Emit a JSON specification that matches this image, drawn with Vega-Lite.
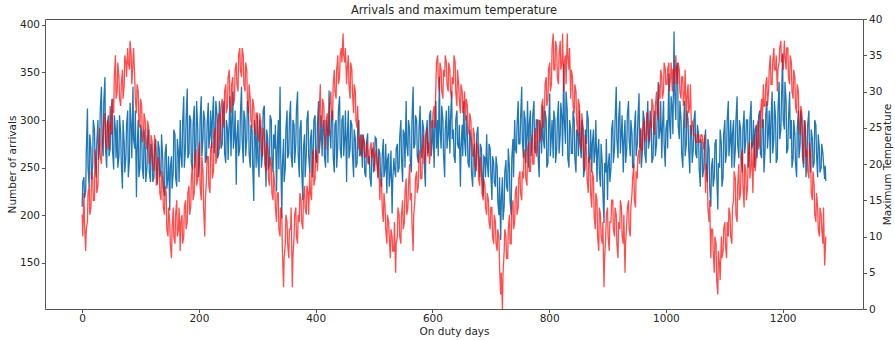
{
"$schema": "https://vega.github.io/schema/vega-lite/v6.json",
"width": 818, "height": 290,
"autosize": {"type": "none"},
"padding": {"left": 45, "top": 19, "right": 32, "bottom": 31},
"title": {"text": "Arrivals and maximum temperature", "fontSize": 11.5, "font": "DejaVu Sans", "fontWeight": "normal", "color": "#262626", "baseline": "bottom", "offset": 3, "dy": 16, "frame": "group", "anchor": "middle"},
"config": {
  "view": {"stroke": "#555555", "strokeWidth": 1},
  "font": "DejaVu Sans",
  "axis": {"grid": false, "domain": false, "tickColor": "#555555", "tickSize": 3.5, "labelFont": "DejaVu Sans", "labelFontSize": 10.5, "labelColor": "#262626", "titleFont": "DejaVu Sans", "titleFontSize": 10.5, "titleFontWeight": "normal", "titleColor": "#262626"}
},
"data": {"values": [
{"day":0,"arr":209,"temp":13},{"day":1,"arr":235,"temp":10},{"day":3,"arr":240,"temp":16},{"day":4,"arr":218,"temp":12},{"day":6,"arr":225,"temp":8},{"day":7,"arr":265,"temp":11},{"day":9,"arr":312,"temp":12},{"day":10,"arr":250,"temp":16},{"day":12,"arr":230,"temp":17},{"day":13,"arr":285,"temp":13},{"day":15,"arr":270,"temp":14},{"day":16,"arr":238,"temp":19},{"day":18,"arr":252,"temp":18},{"day":19,"arr":300,"temp":15},{"day":21,"arr":290,"temp":15},{"day":22,"arr":262,"temp":22},{"day":24,"arr":240,"temp":20},{"day":25,"arr":275,"temp":16},{"day":27,"arr":300,"temp":17},{"day":28,"arr":258,"temp":21},
{"day":30,"arr":275,"temp":25},{"day":31,"arr":310,"temp":21},{"day":33,"arr":335,"temp":20},{"day":34,"arr":280,"temp":23},{"day":36,"arr":262,"temp":24},{"day":37,"arr":318,"temp":26},{"day":39,"arr":345,"temp":27},{"day":40,"arr":270,"temp":23},{"day":42,"arr":250,"temp":22},{"day":43,"arr":295,"temp":26},{"day":45,"arr":305,"temp":25},{"day":46,"arr":262,"temp":22},{"day":48,"arr":270,"temp":28},{"day":49,"arr":300,"temp":25},{"day":51,"arr":322,"temp":24},{"day":52,"arr":268,"temp":29},{"day":54,"arr":248,"temp":27},{"day":55,"arr":305,"temp":32},{"day":57,"arr":290,"temp":35},{"day":58,"arr":260,"temp":29},
{"day":60,"arr":300,"temp":30},{"day":61,"arr":250,"temp":34},{"day":63,"arr":262,"temp":32},{"day":64,"arr":305,"temp":29},{"day":66,"arr":285,"temp":28},{"day":67,"arr":255,"temp":31},{"day":69,"arr":228,"temp":33},{"day":70,"arr":300,"temp":29},{"day":72,"arr":275,"temp":31},{"day":73,"arr":245,"temp":35},{"day":75,"arr":262,"temp":34},{"day":76,"arr":295,"temp":32},{"day":78,"arr":310,"temp":36},{"day":79,"arr":240,"temp":34},{"day":81,"arr":258,"temp":33},{"day":82,"arr":318,"temp":37},{"day":84,"arr":290,"temp":35},{"day":85,"arr":260,"temp":31},{"day":87,"arr":335,"temp":34},{"day":88,"arr":280,"temp":36},
{"day":90,"arr":270,"temp":32},{"day":91,"arr":310,"temp":29},{"day":93,"arr":219,"temp":27},{"day":94,"arr":265,"temp":31},{"day":96,"arr":300,"temp":30},{"day":97,"arr":240,"temp":26},{"day":99,"arr":250,"temp":25},{"day":100,"arr":295,"temp":29},{"day":102,"arr":285,"temp":28},{"day":103,"arr":250,"temp":23},{"day":105,"arr":238,"temp":24},{"day":106,"arr":290,"temp":27},{"day":108,"arr":270,"temp":26},{"day":109,"arr":235,"temp":23},{"day":111,"arr":250,"temp":22},{"day":112,"arr":280,"temp":26},{"day":114,"arr":290,"temp":25},{"day":115,"arr":245,"temp":20},{"day":117,"arr":235,"temp":21},{"day":118,"arr":275,"temp":24},
{"day":120,"arr":262,"temp":23},{"day":121,"arr":235,"temp":20},{"day":123,"arr":240,"temp":19},{"day":124,"arr":270,"temp":24},{"day":126,"arr":280,"temp":22},{"day":127,"arr":250,"temp":17},{"day":129,"arr":232,"temp":18},{"day":130,"arr":278,"temp":21},{"day":132,"arr":270,"temp":20},{"day":133,"arr":240,"temp":16},{"day":135,"arr":246,"temp":15},{"day":136,"arr":285,"temp":19},{"day":138,"arr":258,"temp":18},{"day":139,"arr":230,"temp":14},{"day":141,"arr":220,"temp":13},{"day":142,"arr":265,"temp":17},{"day":144,"arr":275,"temp":16},{"day":145,"arr":228,"temp":11},{"day":147,"arr":240,"temp":10},{"day":148,"arr":262,"temp":14},
{"day":150,"arr":205,"temp":12},{"day":151,"arr":250,"temp":9},{"day":153,"arr":262,"temp":7},{"day":154,"arr":228,"temp":11},{"day":156,"arr":245,"temp":14},{"day":157,"arr":290,"temp":10},{"day":159,"arr":285,"temp":9},{"day":160,"arr":240,"temp":13},{"day":162,"arr":230,"temp":15},{"day":163,"arr":280,"temp":10},{"day":165,"arr":265,"temp":11},{"day":166,"arr":235,"temp":14},{"day":168,"arr":300,"temp":8},{"day":169,"arr":265,"temp":12},{"day":171,"arr":250,"temp":13},{"day":172,"arr":295,"temp":9},{"day":174,"arr":325,"temp":10},{"day":175,"arr":250,"temp":14},{"day":177,"arr":270,"temp":15},{"day":178,"arr":300,"temp":11},
{"day":180,"arr":333,"temp":12},{"day":181,"arr":260,"temp":16},{"day":183,"arr":265,"temp":17},{"day":184,"arr":305,"temp":13},{"day":186,"arr":300,"temp":14},{"day":187,"arr":255,"temp":18},{"day":189,"arr":248,"temp":20},{"day":190,"arr":295,"temp":15},{"day":192,"arr":315,"temp":16},{"day":193,"arr":250,"temp":21},{"day":195,"arr":275,"temp":22},{"day":196,"arr":320,"temp":17},{"day":198,"arr":290,"temp":18},{"day":199,"arr":240,"temp":21},{"day":201,"arr":255,"temp":23},{"day":202,"arr":300,"temp":17},{"day":204,"arr":325,"temp":15},{"day":205,"arr":262,"temp":21},{"day":207,"arr":280,"temp":19},{"day":208,"arr":310,"temp":14},
{"day":210,"arr":300,"temp":10},{"day":211,"arr":255,"temp":15},{"day":213,"arr":260,"temp":18},{"day":214,"arr":295,"temp":21},{"day":216,"arr":318,"temp":21},{"day":217,"arr":270,"temp":17},{"day":219,"arr":285,"temp":16},{"day":220,"arr":310,"temp":22},{"day":222,"arr":270,"temp":23},{"day":223,"arr":300,"temp":18},{"day":225,"arr":325,"temp":19},{"day":226,"arr":265,"temp":24},{"day":228,"arr":290,"temp":25},{"day":229,"arr":320,"temp":20},{"day":231,"arr":305,"temp":21},{"day":232,"arr":260,"temp":26},{"day":234,"arr":265,"temp":27},{"day":235,"arr":320,"temp":22},{"day":237,"arr":300,"temp":24},{"day":238,"arr":270,"temp":28},
{"day":240,"arr":275,"temp":29},{"day":241,"arr":310,"temp":26},{"day":243,"arr":320,"temp":25},{"day":244,"arr":265,"temp":30},{"day":246,"arr":255,"temp":31},{"day":247,"arr":300,"temp":27},{"day":249,"arr":290,"temp":28},{"day":250,"arr":258,"temp":32},{"day":252,"arr":300,"temp":33},{"day":253,"arr":325,"temp":29},{"day":255,"arr":262,"temp":27},{"day":256,"arr":295,"temp":31},{"day":258,"arr":330,"temp":32},{"day":259,"arr":270,"temp":28},{"day":261,"arr":285,"temp":29},{"day":262,"arr":310,"temp":33},{"day":264,"arr":232,"temp":34},{"day":265,"arr":280,"temp":31},{"day":267,"arr":300,"temp":30},{"day":268,"arr":262,"temp":35},
{"day":270,"arr":270,"temp":36},{"day":271,"arr":305,"temp":33},{"day":273,"arr":335,"temp":32},{"day":274,"arr":280,"temp":36},{"day":276,"arr":255,"temp":35},{"day":277,"arr":310,"temp":31},{"day":279,"arr":300,"temp":30},{"day":280,"arr":262,"temp":34},{"day":282,"arr":280,"temp":33},{"day":283,"arr":320,"temp":29},{"day":285,"arr":310,"temp":27},{"day":286,"arr":265,"temp":31},{"day":288,"arr":250,"temp":29},{"day":289,"arr":295,"temp":26},{"day":291,"arr":290,"temp":25},{"day":292,"arr":255,"temp":29},{"day":294,"arr":215,"temp":28},{"day":295,"arr":300,"temp":25},{"day":297,"arr":280,"temp":24},{"day":298,"arr":250,"temp":27},
{"day":300,"arr":305,"temp":27},{"day":301,"arr":260,"temp":24},{"day":303,"arr":240,"temp":23},{"day":304,"arr":300,"temp":27},{"day":306,"arr":290,"temp":26},{"day":307,"arr":250,"temp":22},{"day":309,"arr":265,"temp":21},{"day":310,"arr":310,"temp":25},{"day":312,"arr":315,"temp":24},{"day":313,"arr":270,"temp":20},{"day":315,"arr":230,"temp":19},{"day":316,"arr":290,"temp":23},{"day":318,"arr":280,"temp":22},{"day":319,"arr":248,"temp":18},{"day":321,"arr":255,"temp":17},{"day":322,"arr":305,"temp":21},{"day":324,"arr":300,"temp":20},{"day":325,"arr":260,"temp":16},{"day":327,"arr":245,"temp":15},{"day":328,"arr":285,"temp":19},
{"day":330,"arr":270,"temp":17},{"day":331,"arr":295,"temp":14},{"day":333,"arr":225,"temp":12},{"day":334,"arr":265,"temp":16},{"day":336,"arr":300,"temp":16},{"day":337,"arr":248,"temp":11},{"day":339,"arr":335,"temp":10},{"day":340,"arr":270,"temp":14},{"day":342,"arr":197,"temp":13},{"day":343,"arr":250,"temp":8},{"day":345,"arr":280,"temp":3},{"day":346,"arr":235,"temp":7},{"day":348,"arr":250,"temp":9},{"day":349,"arr":290,"temp":13},{"day":351,"arr":310,"temp":12},{"day":352,"arr":260,"temp":9},{"day":354,"arr":265,"temp":7},{"day":355,"arr":300,"temp":11},{"day":357,"arr":320,"temp":11},{"day":358,"arr":262,"temp":14},
{"day":360,"arr":250,"temp":3},{"day":361,"arr":300,"temp":7},{"day":363,"arr":295,"temp":10},{"day":364,"arr":255,"temp":13},{"day":366,"arr":275,"temp":14},{"day":367,"arr":310,"temp":10},{"day":369,"arr":330,"temp":9},{"day":370,"arr":265,"temp":13},{"day":372,"arr":240,"temp":12},{"day":373,"arr":290,"temp":16},{"day":375,"arr":300,"temp":15},{"day":376,"arr":250,"temp":12},{"day":378,"arr":216,"temp":11},{"day":379,"arr":270,"temp":15},{"day":381,"arr":285,"temp":17},{"day":382,"arr":240,"temp":14},{"day":384,"arr":265,"temp":13},{"day":385,"arr":300,"temp":17},{"day":387,"arr":310,"temp":16},{"day":388,"arr":262,"temp":13},
{"day":390,"arr":245,"temp":19},{"day":391,"arr":280,"temp":16},{"day":393,"arr":290,"temp":15},{"day":394,"arr":240,"temp":20},{"day":396,"arr":270,"temp":22},{"day":397,"arr":300,"temp":17},{"day":399,"arr":305,"temp":18},{"day":400,"arr":260,"temp":22},{"day":402,"arr":255,"temp":21},{"day":403,"arr":295,"temp":19},{"day":405,"arr":320,"temp":23},{"day":406,"arr":265,"temp":27},{"day":408,"arr":280,"temp":31},{"day":409,"arr":305,"temp":26},{"day":411,"arr":262,"temp":25},{"day":412,"arr":290,"temp":29},{"day":414,"arr":300,"temp":28},{"day":415,"arr":262,"temp":24},{"day":417,"arr":250,"temp":22},{"day":418,"arr":300,"temp":26},
{"day":420,"arr":290,"temp":27},{"day":421,"arr":255,"temp":24},{"day":423,"arr":331,"temp":24},{"day":424,"arr":290,"temp":28},{"day":426,"arr":270,"temp":30},{"day":427,"arr":305,"temp":27},{"day":429,"arr":310,"temp":26},{"day":430,"arr":262,"temp":31},{"day":432,"arr":245,"temp":33},{"day":433,"arr":295,"temp":30},{"day":435,"arr":300,"temp":29},{"day":436,"arr":250,"temp":33},{"day":438,"arr":275,"temp":35},{"day":439,"arr":310,"temp":31},{"day":441,"arr":325,"temp":32},{"day":442,"arr":270,"temp":35},{"day":444,"arr":260,"temp":36},{"day":445,"arr":300,"temp":34},{"day":447,"arr":305,"temp":38},{"day":448,"arr":262,"temp":35},
{"day":450,"arr":285,"temp":34},{"day":451,"arr":310,"temp":36},{"day":453,"arr":235,"temp":31},{"day":454,"arr":280,"temp":33},{"day":456,"arr":310,"temp":35},{"day":457,"arr":260,"temp":31},{"day":459,"arr":270,"temp":29},{"day":460,"arr":300,"temp":34},{"day":462,"arr":295,"temp":33},{"day":463,"arr":265,"temp":30},{"day":465,"arr":240,"temp":27},{"day":466,"arr":290,"temp":31},{"day":468,"arr":280,"temp":30},{"day":469,"arr":250,"temp":26},{"day":471,"arr":255,"temp":25},{"day":472,"arr":290,"temp":28},{"day":474,"arr":300,"temp":22},{"day":475,"arr":262,"temp":23},{"day":477,"arr":265,"temp":24},{"day":478,"arr":285,"temp":21},
{"day":480,"arr":250,"temp":22},{"day":481,"arr":285,"temp":24},{"day":483,"arr":278,"temp":23},{"day":484,"arr":245,"temp":21},{"day":486,"arr":240,"temp":21},{"day":487,"arr":275,"temp":23},{"day":489,"arr":286,"temp":22},{"day":490,"arr":255,"temp":20},{"day":492,"arr":262,"temp":20},{"day":493,"arr":240,"temp":22},{"day":495,"arr":230,"temp":23},{"day":496,"arr":268,"temp":21},{"day":498,"arr":270,"temp":21},{"day":499,"arr":245,"temp":23},{"day":501,"arr":255,"temp":19},{"day":502,"arr":282,"temp":21},{"day":504,"arr":280,"temp":22},{"day":505,"arr":258,"temp":20},{"day":507,"arr":240,"temp":18},{"day":508,"arr":270,"temp":21},
{"day":510,"arr":265,"temp":15},{"day":511,"arr":245,"temp":18},{"day":513,"arr":230,"temp":17},{"day":514,"arr":262,"temp":14},{"day":516,"arr":280,"temp":12},{"day":517,"arr":240,"temp":16},{"day":519,"arr":250,"temp":14},{"day":520,"arr":275,"temp":11},{"day":522,"arr":223,"temp":9},{"day":523,"arr":258,"temp":13},{"day":525,"arr":265,"temp":12},{"day":526,"arr":230,"temp":10},{"day":528,"arr":245,"temp":7},{"day":529,"arr":268,"temp":11},{"day":531,"arr":202,"temp":10},{"day":532,"arr":235,"temp":8},{"day":534,"arr":260,"temp":8},{"day":535,"arr":250,"temp":12},{"day":537,"arr":240,"temp":5},{"day":538,"arr":270,"temp":9},
{"day":540,"arr":275,"temp":10},{"day":541,"arr":245,"temp":14},{"day":543,"arr":250,"temp":13},{"day":544,"arr":282,"temp":10},{"day":546,"arr":300,"temp":9},{"day":547,"arr":260,"temp":13},{"day":549,"arr":235,"temp":15},{"day":550,"arr":290,"temp":11},{"day":552,"arr":285,"temp":12},{"day":553,"arr":250,"temp":16},{"day":555,"arr":320,"temp":18},{"day":556,"arr":275,"temp":13},{"day":558,"arr":262,"temp":14},{"day":559,"arr":300,"temp":17},{"day":561,"arr":290,"temp":20},{"day":562,"arr":258,"temp":15},{"day":564,"arr":245,"temp":16},{"day":565,"arr":300,"temp":12},{"day":567,"arr":335,"temp":8},{"day":568,"arr":270,"temp":13},
{"day":570,"arr":275,"temp":15},{"day":571,"arr":305,"temp":18},{"day":573,"arr":300,"temp":19},{"day":574,"arr":262,"temp":16},{"day":576,"arr":255,"temp":17},{"day":577,"arr":290,"temp":21},{"day":579,"arr":315,"temp":22},{"day":580,"arr":270,"temp":18},{"day":582,"arr":260,"temp":18},{"day":583,"arr":300,"temp":22},{"day":585,"arr":290,"temp":24},{"day":586,"arr":255,"temp":20},{"day":588,"arr":230,"temp":21},{"day":589,"arr":285,"temp":24},{"day":591,"arr":300,"temp":25},{"day":592,"arr":265,"temp":21},{"day":594,"arr":270,"temp":23},{"day":595,"arr":305,"temp":20},{"day":597,"arr":310,"temp":22},{"day":598,"arr":262,"temp":26},
{"day":600,"arr":280,"temp":25},{"day":601,"arr":300,"temp":27},{"day":603,"arr":250,"temp":28},{"day":604,"arr":290,"temp":25},{"day":606,"arr":320,"temp":31},{"day":607,"arr":270,"temp":34},{"day":609,"arr":300,"temp":35},{"day":610,"arr":262,"temp":32},{"day":612,"arr":345,"temp":30},{"day":613,"arr":290,"temp":34},{"day":615,"arr":270,"temp":33},{"day":616,"arr":315,"temp":30},{"day":618,"arr":300,"temp":29},{"day":619,"arr":265,"temp":33},{"day":621,"arr":240,"temp":32},{"day":622,"arr":290,"temp":35},{"day":624,"arr":310,"temp":34},{"day":625,"arr":270,"temp":31},{"day":627,"arr":285,"temp":30},{"day":628,"arr":315,"temp":34},
{"day":630,"arr":265,"temp":33},{"day":631,"arr":300,"temp":30},{"day":633,"arr":330,"temp":29},{"day":634,"arr":280,"temp":32},{"day":636,"arr":290,"temp":31},{"day":637,"arr":262,"temp":35},{"day":639,"arr":255,"temp":34},{"day":640,"arr":300,"temp":30},{"day":642,"arr":310,"temp":28},{"day":643,"arr":275,"temp":33},{"day":645,"arr":270,"temp":31},{"day":646,"arr":295,"temp":29},{"day":648,"arr":230,"temp":27},{"day":649,"arr":270,"temp":31},{"day":651,"arr":295,"temp":30},{"day":652,"arr":262,"temp":27},{"day":654,"arr":320,"temp":28},{"day":655,"arr":280,"temp":30},{"day":657,"arr":262,"temp":26},{"day":658,"arr":305,"temp":29},
{"day":660,"arr":285,"temp":28},{"day":661,"arr":255,"temp":25},{"day":663,"arr":250,"temp":24},{"day":664,"arr":290,"temp":27},{"day":666,"arr":280,"temp":26},{"day":667,"arr":245,"temp":23},{"day":669,"arr":230,"temp":21},{"day":670,"arr":265,"temp":25},{"day":672,"arr":275,"temp":24},{"day":673,"arr":240,"temp":20},{"day":675,"arr":255,"temp":19},{"day":676,"arr":285,"temp":23},{"day":678,"arr":293,"temp":22},{"day":679,"arr":260,"temp":18},{"day":681,"arr":240,"temp":17},{"day":682,"arr":275,"temp":21},{"day":684,"arr":270,"temp":19},{"day":685,"arr":245,"temp":16},{"day":687,"arr":220,"temp":15},{"day":688,"arr":262,"temp":18},
{"day":690,"arr":260,"temp":17},{"day":691,"arr":240,"temp":14},{"day":693,"arr":285,"temp":13},{"day":694,"arr":255,"temp":16},{"day":696,"arr":240,"temp":15},{"day":697,"arr":275,"temp":12},{"day":699,"arr":270,"temp":11},{"day":700,"arr":245,"temp":14},{"day":702,"arr":216,"temp":14},{"day":703,"arr":262,"temp":10},{"day":705,"arr":255,"temp":9},{"day":706,"arr":235,"temp":13},{"day":708,"arr":230,"temp":12},{"day":709,"arr":262,"temp":9},{"day":711,"arr":250,"temp":8},{"day":712,"arr":215,"temp":11},{"day":714,"arr":200,"temp":10},{"day":715,"arr":240,"temp":6},{"day":717,"arr":174,"temp":2},{"day":718,"arr":215,"temp":5},
{"day":720,"arr":240,"temp":0},{"day":721,"arr":195,"temp":5},{"day":723,"arr":210,"temp":8},{"day":724,"arr":245,"temp":11},{"day":726,"arr":258,"temp":10},{"day":727,"arr":230,"temp":7},{"day":729,"arr":225,"temp":7},{"day":730,"arr":270,"temp":11},{"day":732,"arr":250,"temp":13},{"day":733,"arr":215,"temp":9},{"day":735,"arr":200,"temp":9},{"day":736,"arr":260,"temp":14},{"day":738,"arr":280,"temp":15},{"day":739,"arr":240,"temp":11},{"day":741,"arr":300,"temp":12},{"day":742,"arr":270,"temp":16},{"day":744,"arr":265,"temp":17},{"day":745,"arr":295,"temp":13},{"day":747,"arr":320,"temp":14},{"day":748,"arr":275,"temp":18},
{"day":750,"arr":275,"temp":19},{"day":751,"arr":300,"temp":16},{"day":753,"arr":335,"temp":15},{"day":754,"arr":280,"temp":19},{"day":756,"arr":260,"temp":18},{"day":757,"arr":310,"temp":22},{"day":759,"arr":300,"temp":21},{"day":760,"arr":255,"temp":18},{"day":762,"arr":290,"temp":17},{"day":763,"arr":320,"temp":22},{"day":765,"arr":250,"temp":23},{"day":766,"arr":295,"temp":19},{"day":768,"arr":310,"temp":19},{"day":769,"arr":262,"temp":22},{"day":771,"arr":280,"temp":24},{"day":772,"arr":305,"temp":20},{"day":774,"arr":320,"temp":20},{"day":775,"arr":270,"temp":24},{"day":777,"arr":265,"temp":25},{"day":778,"arr":300,"temp":21},
{"day":780,"arr":300,"temp":22},{"day":781,"arr":262,"temp":26},{"day":783,"arr":240,"temp":26},{"day":784,"arr":300,"temp":23},{"day":786,"arr":290,"temp":24},{"day":787,"arr":265,"temp":28},{"day":789,"arr":315,"temp":29},{"day":790,"arr":280,"temp":25},{"day":792,"arr":270,"temp":27},{"day":793,"arr":310,"temp":31},{"day":795,"arr":300,"temp":32},{"day":796,"arr":250,"temp":28},{"day":798,"arr":255,"temp":29},{"day":799,"arr":290,"temp":33},{"day":801,"arr":328,"temp":34},{"day":802,"arr":262,"temp":30},{"day":804,"arr":285,"temp":31},{"day":805,"arr":300,"temp":36},{"day":807,"arr":260,"temp":38},{"day":808,"arr":310,"temp":33},
{"day":810,"arr":300,"temp":33},{"day":811,"arr":255,"temp":37},{"day":813,"arr":270,"temp":36},{"day":814,"arr":300,"temp":32},{"day":816,"arr":320,"temp":31},{"day":817,"arr":265,"temp":35},{"day":819,"arr":285,"temp":37},{"day":820,"arr":318,"temp":33},{"day":822,"arr":300,"temp":34},{"day":823,"arr":262,"temp":38},{"day":825,"arr":359,"temp":30},{"day":826,"arr":300,"temp":34},{"day":828,"arr":275,"temp":35},{"day":829,"arr":330,"temp":31},{"day":831,"arr":310,"temp":38},{"day":832,"arr":260,"temp":35},{"day":834,"arr":250,"temp":33},{"day":835,"arr":300,"temp":36},{"day":837,"arr":290,"temp":29},{"day":838,"arr":265,"temp":33},
{"day":840,"arr":265,"temp":32},{"day":841,"arr":310,"temp":28},{"day":843,"arr":300,"temp":27},{"day":844,"arr":260,"temp":31},{"day":846,"arr":245,"temp":30},{"day":847,"arr":290,"temp":26},{"day":849,"arr":285,"temp":24},{"day":850,"arr":262,"temp":29},{"day":852,"arr":310,"temp":28},{"day":853,"arr":275,"temp":23},{"day":855,"arr":260,"temp":22},{"day":856,"arr":300,"temp":27},{"day":858,"arr":290,"temp":25},{"day":859,"arr":240,"temp":21},{"day":861,"arr":250,"temp":19},{"day":862,"arr":290,"temp":24},{"day":864,"arr":275,"temp":22},{"day":865,"arr":310,"temp":18},{"day":867,"arr":300,"temp":16},{"day":868,"arr":255,"temp":21},
{"day":870,"arr":260,"temp":20},{"day":871,"arr":290,"temp":16},{"day":873,"arr":245,"temp":14},{"day":874,"arr":275,"temp":19},{"day":876,"arr":290,"temp":18},{"day":877,"arr":255,"temp":13},{"day":879,"arr":270,"temp":11},{"day":880,"arr":300,"temp":16},{"day":882,"arr":235,"temp":15},{"day":883,"arr":265,"temp":10},{"day":885,"arr":280,"temp":8},{"day":886,"arr":245,"temp":14},{"day":888,"arr":230,"temp":13},{"day":889,"arr":275,"temp":10},{"day":891,"arr":255,"temp":9},{"day":892,"arr":225,"temp":12},{"day":894,"arr":192,"temp":3},{"day":895,"arr":255,"temp":7},{"day":897,"arr":245,"temp":10},{"day":898,"arr":280,"temp":13},
{"day":900,"arr":216,"temp":14},{"day":901,"arr":250,"temp":10},{"day":903,"arr":265,"temp":8},{"day":904,"arr":235,"temp":12},{"day":906,"arr":250,"temp":12},{"day":907,"arr":290,"temp":15},{"day":909,"arr":300,"temp":15},{"day":910,"arr":255,"temp":11},{"day":912,"arr":270,"temp":10},{"day":913,"arr":300,"temp":14},{"day":915,"arr":335,"temp":13},{"day":916,"arr":280,"temp":9},{"day":918,"arr":260,"temp":7},{"day":919,"arr":300,"temp":12},{"day":921,"arr":320,"temp":11},{"day":922,"arr":265,"temp":15},{"day":924,"arr":290,"temp":14},{"day":925,"arr":305,"temp":10},{"day":927,"arr":245,"temp":9},{"day":928,"arr":275,"temp":13},
{"day":930,"arr":300,"temp":5},{"day":931,"arr":255,"temp":9},{"day":933,"arr":270,"temp":12},{"day":934,"arr":305,"temp":14},{"day":936,"arr":320,"temp":15},{"day":937,"arr":280,"temp":11},{"day":939,"arr":262,"temp":10},{"day":940,"arr":300,"temp":14},{"day":942,"arr":285,"temp":16},{"day":943,"arr":250,"temp":18},{"day":945,"arr":250,"temp":20},{"day":946,"arr":290,"temp":15},{"day":948,"arr":310,"temp":14},{"day":949,"arr":262,"temp":19},{"day":951,"arr":275,"temp":18},{"day":952,"arr":300,"temp":21},{"day":954,"arr":328,"temp":22},{"day":955,"arr":270,"temp":20},{"day":957,"arr":290,"temp":25},{"day":958,"arr":250,"temp":22},
{"day":960,"arr":270,"temp":22},{"day":961,"arr":310,"temp":25},{"day":963,"arr":300,"temp":26},{"day":964,"arr":265,"temp":23},{"day":966,"arr":255,"temp":24},{"day":967,"arr":290,"temp":27},{"day":969,"arr":320,"temp":27},{"day":970,"arr":270,"temp":24},{"day":972,"arr":280,"temp":23},{"day":973,"arr":310,"temp":26},{"day":975,"arr":295,"temp":25},{"day":976,"arr":255,"temp":29},{"day":978,"arr":260,"temp":28},{"day":979,"arr":290,"temp":25},{"day":981,"arr":310,"temp":24},{"day":982,"arr":262,"temp":28},{"day":984,"arr":275,"temp":30},{"day":985,"arr":300,"temp":27},{"day":987,"arr":340,"temp":26},{"day":988,"arr":280,"temp":31},
{"day":990,"arr":290,"temp":29},{"day":991,"arr":320,"temp":33},{"day":993,"arr":260,"temp":32},{"day":994,"arr":290,"temp":29},{"day":996,"arr":320,"temp":30},{"day":997,"arr":275,"temp":34},{"day":999,"arr":251,"temp":33},{"day":1000,"arr":290,"temp":31},{"day":1002,"arr":300,"temp":31},{"day":1003,"arr":270,"temp":33},{"day":1005,"arr":349,"temp":34},{"day":1006,"arr":300,"temp":30},{"day":1008,"arr":280,"temp":32},{"day":1009,"arr":325,"temp":34},{"day":1011,"arr":310,"temp":30},{"day":1012,"arr":285,"temp":33},{"day":1014,"arr":393,"temp":33},{"day":1015,"arr":330,"temp":31},{"day":1017,"arr":300,"temp":35},{"day":1018,"arr":355,"temp":33},
{"day":1020,"arr":360,"temp":31},{"day":1021,"arr":295,"temp":34},{"day":1023,"arr":280,"temp":33},{"day":1024,"arr":320,"temp":30},{"day":1026,"arr":300,"temp":29},{"day":1027,"arr":265,"temp":32},{"day":1029,"arr":250,"temp":32},{"day":1030,"arr":290,"temp":28},{"day":1032,"arr":320,"temp":30},{"day":1033,"arr":262,"temp":33},{"day":1035,"arr":275,"temp":25},{"day":1036,"arr":310,"temp":29},{"day":1038,"arr":300,"temp":31},{"day":1039,"arr":270,"temp":27},{"day":1041,"arr":244,"temp":28},{"day":1042,"arr":295,"temp":31},{"day":1044,"arr":290,"temp":24},{"day":1045,"arr":255,"temp":26},{"day":1047,"arr":270,"temp":25},{"day":1048,"arr":300,"temp":24},
{"day":1050,"arr":310,"temp":24},{"day":1051,"arr":265,"temp":23},{"day":1053,"arr":260,"temp":23},{"day":1054,"arr":295,"temp":24},{"day":1056,"arr":285,"temp":24},{"day":1057,"arr":250,"temp":23},{"day":1059,"arr":230,"temp":23},{"day":1060,"arr":280,"temp":24},{"day":1062,"arr":270,"temp":24},{"day":1063,"arr":240,"temp":23},{"day":1065,"arr":250,"temp":22},{"day":1066,"arr":275,"temp":24},{"day":1068,"arr":290,"temp":16},{"day":1069,"arr":255,"temp":20},{"day":1071,"arr":235,"temp":18},{"day":1072,"arr":280,"temp":14},{"day":1074,"arr":270,"temp":12},{"day":1075,"arr":230,"temp":15},{"day":1077,"arr":209,"temp":7},{"day":1078,"arr":250,"temp":11},
{"day":1080,"arr":260,"temp":11},{"day":1081,"arr":230,"temp":8},{"day":1083,"arr":240,"temp":5},{"day":1084,"arr":275,"temp":10},{"day":1086,"arr":280,"temp":9},{"day":1087,"arr":245,"temp":4},{"day":1089,"arr":206,"temp":2},{"day":1090,"arr":255,"temp":8},{"day":1092,"arr":250,"temp":6},{"day":1093,"arr":290,"temp":4},{"day":1095,"arr":275,"temp":10},{"day":1096,"arr":230,"temp":7},{"day":1098,"arr":240,"temp":8},{"day":1099,"arr":285,"temp":11},{"day":1101,"arr":300,"temp":12},{"day":1102,"arr":255,"temp":9},{"day":1104,"arr":265,"temp":7},{"day":1105,"arr":300,"temp":12},{"day":1107,"arr":320,"temp":10},{"day":1108,"arr":262,"temp":14},
{"day":1110,"arr":280,"temp":13},{"day":1111,"arr":300,"temp":10},{"day":1113,"arr":250,"temp":9},{"day":1114,"arr":285,"temp":14},{"day":1116,"arr":300,"temp":15},{"day":1117,"arr":250,"temp":19},{"day":1119,"arr":270,"temp":18},{"day":1120,"arr":300,"temp":13},{"day":1122,"arr":325,"temp":12},{"day":1123,"arr":275,"temp":17},{"day":1125,"arr":260,"temp":20},{"day":1126,"arr":300,"temp":15},{"day":1128,"arr":290,"temp":16},{"day":1129,"arr":260,"temp":21},{"day":1131,"arr":245,"temp":22},{"day":1132,"arr":290,"temp":17},{"day":1134,"arr":310,"temp":14},{"day":1135,"arr":265,"temp":20},{"day":1137,"arr":280,"temp":19},{"day":1138,"arr":300,"temp":15},
{"day":1140,"arr":300,"temp":17},{"day":1141,"arr":250,"temp":21},{"day":1143,"arr":265,"temp":23},{"day":1144,"arr":300,"temp":18},{"day":1146,"arr":320,"temp":20},{"day":1147,"arr":270,"temp":23},{"day":1149,"arr":275,"temp":16},{"day":1150,"arr":300,"temp":20},{"day":1152,"arr":250,"temp":24},{"day":1153,"arr":290,"temp":19},{"day":1155,"arr":295,"temp":21},{"day":1156,"arr":260,"temp":25},{"day":1158,"arr":280,"temp":26},{"day":1159,"arr":305,"temp":22},{"day":1161,"arr":310,"temp":23},{"day":1162,"arr":265,"temp":27},{"day":1164,"arr":260,"temp":29},{"day":1165,"arr":300,"temp":25},{"day":1167,"arr":300,"temp":31},{"day":1168,"arr":245,"temp":28},
{"day":1170,"arr":270,"temp":28},{"day":1171,"arr":305,"temp":31},{"day":1173,"arr":320,"temp":32},{"day":1174,"arr":270,"temp":28},{"day":1176,"arr":290,"temp":30},{"day":1177,"arr":310,"temp":33},{"day":1179,"arr":255,"temp":35},{"day":1180,"arr":300,"temp":31},{"day":1182,"arr":330,"temp":31},{"day":1183,"arr":265,"temp":34},{"day":1185,"arr":280,"temp":36},{"day":1186,"arr":320,"temp":33},{"day":1188,"arr":300,"temp":33},{"day":1189,"arr":255,"temp":35},{"day":1191,"arr":260,"temp":30},{"day":1192,"arr":310,"temp":33},{"day":1194,"arr":340,"temp":34},{"day":1195,"arr":280,"temp":36},{"day":1197,"arr":290,"temp":37},{"day":1198,"arr":320,"temp":34},
{"day":1200,"arr":370,"temp":35},{"day":1201,"arr":300,"temp":33},{"day":1203,"arr":290,"temp":37},{"day":1204,"arr":340,"temp":35},{"day":1206,"arr":320,"temp":33},{"day":1207,"arr":265,"temp":36},{"day":1209,"arr":270,"temp":36},{"day":1210,"arr":300,"temp":32},{"day":1212,"arr":330,"temp":31},{"day":1213,"arr":280,"temp":35},{"day":1215,"arr":300,"temp":34},{"day":1216,"arr":250,"temp":30},{"day":1218,"arr":260,"temp":29},{"day":1219,"arr":300,"temp":33},{"day":1221,"arr":285,"temp":32},{"day":1222,"arr":255,"temp":28},{"day":1224,"arr":240,"temp":27},{"day":1225,"arr":290,"temp":31},{"day":1227,"arr":310,"temp":30},{"day":1228,"arr":260,"temp":26},
{"day":1230,"arr":275,"temp":24},{"day":1231,"arr":310,"temp":28},{"day":1233,"arr":300,"temp":27},{"day":1234,"arr":262,"temp":23},{"day":1236,"arr":250,"temp":20},{"day":1237,"arr":300,"temp":25},{"day":1239,"arr":290,"temp":26},{"day":1240,"arr":240,"temp":21},{"day":1242,"arr":265,"temp":22},{"day":1243,"arr":295,"temp":19},{"day":1245,"arr":310,"temp":18},{"day":1246,"arr":270,"temp":23},{"day":1248,"arr":245,"temp":21},{"day":1249,"arr":290,"temp":16},{"day":1251,"arr":280,"temp":15},{"day":1252,"arr":250,"temp":19},{"day":1254,"arr":255,"temp":17},{"day":1255,"arr":300,"temp":13},{"day":1257,"arr":295,"temp":12},{"day":1258,"arr":265,"temp":16},
{"day":1260,"arr":240,"temp":14},{"day":1261,"arr":285,"temp":11},{"day":1263,"arr":270,"temp":10},{"day":1264,"arr":245,"temp":14},{"day":1266,"arr":250,"temp":13},{"day":1267,"arr":275,"temp":11},{"day":1269,"arr":265,"temp":9},{"day":1270,"arr":255,"temp":14},{"day":1272,"arr":238,"temp":6},{"day":1273,"arr":252,"temp":8},{"day":1274,"arr":236,"temp":10}
]},
"encoding": {
  "x": {"field": "day", "type": "quantitative", "scale": {"domain": [-63.7, 1337.7], "nice": false, "zero": false},
        "axis": {"values": [0, 200, 400, 600, 800, 1000, 1200], "format": "d", "title": "On duty days", "labelPadding": 1, "titleX": 409, "titleY": 22, "titleBaseline": "middle", "titleAlign": "center"}}
},
"layer": [
  {"mark": {"type": "line", "color": "#1f77b4", "strokeWidth": 1.3, "clip": true},
   "encoding": {"y": {"field": "arr", "type": "quantitative", "scale": {"domain": [101.7, 406], "nice": false, "zero": false},
     "axis": {"orient": "left", "values": [150, 200, 250, 300, 350, 400], "title": "Number of arrivals", "labelPadding": 2, "titleX": -33, "titleY": 145, "titleAngle": 270, "titleAlign": "center", "titleBaseline": "middle"}}}},
  {"mark": {"type": "line", "color": "#ff0000", "opacity": 0.7, "strokeWidth": 1.3, "clip": true},
   "encoding": {"y": {"field": "temp", "type": "quantitative", "scale": {"domain": [0, 40], "nice": false, "zero": false},
     "axis": {"orient": "right", "values": [0, 5, 10, 15, 20, 25, 30, 35, 40], "title": "Maximum Temperature", "labelPadding": 2, "titleX": 24.5, "titleY": 145, "titleAngle": 270, "titleAlign": "center", "titleBaseline": "middle"}}}}
],
"resolve": {"scale": {"y": "independent"}}
}
